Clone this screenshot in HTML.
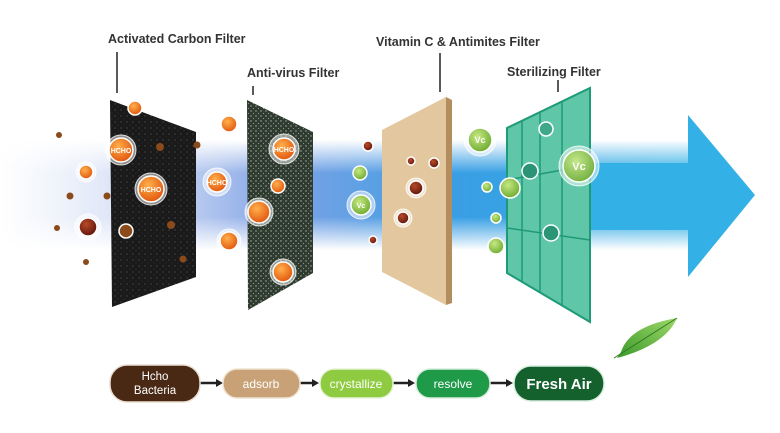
<!DOCTYPE html>
<html><head><meta charset="utf-8"><style>
html,body{margin:0;padding:0;background:#fff;}
svg{display:block}
text{font-family:"Liberation Sans",Arial,sans-serif;font-weight:bold}
</style></head><body>
<svg width="780" height="433" viewBox="0 0 780 433" xmlns="http://www.w3.org/2000/svg">
<defs>
<linearGradient id="beam" x1="0" x2="1" y1="0" y2="0">
<stop offset="0" stop-color="#c8d6f2" stop-opacity="0"/>
<stop offset="0.2" stop-color="#b7c6ee" stop-opacity="0.6"/>
<stop offset="0.4" stop-color="#6f98e2" stop-opacity="0.9"/>
<stop offset="0.65" stop-color="#3a9ee4"/>
<stop offset="1" stop-color="#2fb0e6"/>
</linearGradient>
<linearGradient id="vbeam" x1="0" x2="0" y1="0" y2="1">
<stop offset="0" stop-color="#fff" stop-opacity="1"/>
<stop offset="0.3" stop-color="#fff" stop-opacity="0"/>
<stop offset="0.7" stop-color="#fff" stop-opacity="0"/>
<stop offset="1" stop-color="#fff" stop-opacity="1"/>
</linearGradient>
<radialGradient id="orb" cx="0.4" cy="0.35" r="0.7">
<stop offset="0" stop-color="#ffb04a"/><stop offset="1" stop-color="#e0520c"/>
</radialGradient>
<radialGradient id="red" cx="0.4" cy="0.35" r="0.7">
<stop offset="0" stop-color="#b84a2a"/><stop offset="1" stop-color="#5a1208"/>
</radialGradient>
<radialGradient id="vc" cx="0.4" cy="0.35" r="0.7">
<stop offset="0" stop-color="#c6e882"/><stop offset="1" stop-color="#6aa82e"/>
</radialGradient>
<linearGradient id="leaf" x1="0" y1="1" x2="1" y2="0">
<stop offset="0" stop-color="#3a9a2a"/><stop offset="1" stop-color="#9fd86a"/>
</linearGradient>
<pattern id="speck" width="6" height="6" patternUnits="userSpaceOnUse">
<rect width="6" height="6" fill="#1a1a1a"/><circle cx="1" cy="2" r="0.5" fill="#777"/><circle cx="4" cy="5" r="0.4" fill="#555"/>
</pattern>
<pattern id="speck2" width="5" height="5" patternUnits="userSpaceOnUse">
<rect width="5" height="5" fill="#2f3a30"/><circle cx="1" cy="1" r="0.7" fill="#a9b6a2"/><circle cx="3.5" cy="3.5" r="0.6" fill="#8a9a84"/>
</pattern>
</defs>

<rect x="0" y="140" width="700" height="110" fill="url(#beam)"/>
<rect x="0" y="140" width="700" height="110" fill="url(#vbeam)"/>
<rect x="590" y="163" width="100" height="67" fill="#33b0e5"/>
<polygon points="688,115 755,195 688,277" fill="#33b0e5"/>

<polygon points="110,100 196,132 196,277 112,307" fill="url(#speck)"/>
<polygon points="247,100 313,132 313,273 248,310" fill="url(#speck2)"/>
<polygon points="382,130 446,97 446,305 382,272" fill="#e3c79e"/>
<polygon points="446,97 452,100 452,303 446,305" fill="#b48d5e"/>
<polygon points="507,128 590,88 590,322 507,273" fill="#5fc6a8" stroke="#1f9a78" stroke-width="2"/>
<g stroke="#1f9a78" stroke-width="1.5" fill="none">
<line x1="522" y1="121" x2="522" y2="282"/><line x1="540" y1="112" x2="540" y2="293"/><line x1="562" y1="102" x2="562" y2="305"/>
<line x1="507" y1="180" x2="590" y2="165"/><line x1="507" y1="228" x2="590" y2="240"/>
</g>

<g fill="#333" font-size="12.5">
<text x="108" y="43">Activated Carbon Filter</text>
<text x="247" y="77">Anti-virus Filter</text>
<text x="376" y="46">Vitamin C &amp; Antimites Filter</text>
<text x="507" y="76">Sterilizing Filter</text>
</g>
<g stroke="#222" stroke-width="1.5">
<line x1="117" y1="52" x2="117" y2="93"/><line x1="253" y1="86" x2="253" y2="95"/>
<line x1="440" y1="53" x2="440" y2="92"/><line x1="558" y1="80" x2="558" y2="92"/>
</g>

<g fill="#fff" fill-opacity="0.5" stroke="#fff" stroke-opacity="0.8">
<circle cx="121" cy="150" r="15"/><circle cx="151" cy="189" r="16"/><circle cx="86" cy="172" r="10"/>
<circle cx="88" cy="227" r="13"/><circle cx="217" cy="182" r="14"/><circle cx="229" cy="241" r="12"/>
<circle cx="284" cy="149" r="15"/><circle cx="259" cy="212" r="14"/><circle cx="283" cy="272" r="13"/>
<circle cx="361" cy="205" r="14"/><circle cx="480" cy="140" r="16"/><circle cx="579" cy="166" r="20"/>
<circle cx="416" cy="188" r="10"/><circle cx="403" cy="218" r="9"/>
</g>
<g stroke="#fff" stroke-width="1.5">
<circle cx="135" cy="108" r="7" fill="url(#orb)"/>
<circle cx="121" cy="150" r="12" fill="url(#orb)"/>
<circle cx="151" cy="189" r="13" fill="url(#orb)"/>
<circle cx="86" cy="172" r="7" fill="url(#orb)"/>
<circle cx="88" cy="227" r="9" fill="url(#red)"/>
<circle cx="126" cy="231" r="7" fill="#8a4a1a"/>
<circle cx="229" cy="124" r="8" fill="url(#orb)"/>
<circle cx="217" cy="182" r="10" fill="url(#orb)"/>
<circle cx="229" cy="241" r="9" fill="url(#orb)"/>
<circle cx="284" cy="149" r="11" fill="url(#orb)"/>
<circle cx="278" cy="186" r="7" fill="url(#orb)"/>
<circle cx="259" cy="212" r="11" fill="url(#orb)"/>
<circle cx="283" cy="272" r="10" fill="url(#orb)"/>
<circle cx="411" cy="161" r="4" fill="url(#red)"/>
<circle cx="434" cy="163" r="5" fill="url(#red)"/>
<circle cx="416" cy="188" r="7" fill="url(#red)"/>
<circle cx="403" cy="218" r="6" fill="url(#red)"/>
<circle cx="368" cy="146" r="5" fill="url(#red)"/>
<circle cx="373" cy="240" r="4" fill="url(#red)"/>
<circle cx="360" cy="173" r="7" fill="url(#vc)"/>
<circle cx="361" cy="205" r="10" fill="url(#vc)"/>
<circle cx="480" cy="140" r="12" fill="url(#vc)"/>
<circle cx="510" cy="188" r="10" fill="url(#vc)"/>
<circle cx="487" cy="187" r="5" fill="url(#vc)"/>
<circle cx="496" cy="218" r="5" fill="url(#vc)"/>
<circle cx="496" cy="246" r="8" fill="url(#vc)"/>
<circle cx="579" cy="166" r="16" fill="url(#vc)" fill-opacity="0.9"/>
<circle cx="546" cy="129" r="7" fill="#3ea888"/>
<circle cx="530" cy="171" r="8" fill="#2a9474"/>
<circle cx="551" cy="233" r="8" fill="#2a9474"/>
</g>
<g fill="#8a4a1a">
<circle cx="59" cy="135" r="3"/><circle cx="70" cy="196" r="3.5"/><circle cx="107" cy="196" r="3.5"/>
<circle cx="57" cy="228" r="3"/><circle cx="86" cy="262" r="3"/><circle cx="160" cy="147" r="4"/>
<circle cx="171" cy="225" r="4"/><circle cx="183" cy="259" r="3.5"/><circle cx="197" cy="145" r="3.5"/>
</g>
<g fill="#fff" font-size="7" text-anchor="middle">
<text x="151" y="192">HCHO</text><text x="121" y="153">HCHO</text><text x="217" y="185">HCHO</text><text x="284" y="152">HCHO</text>
<text x="480" y="143" font-size="9">Vc</text><text x="579" y="170" font-size="11">Vc</text><text x="361" y="208" font-size="7">Vc</text>
</g>

<path d="M617,358 C640,352 668,340 677,318 C655,322 628,330 621,352 Z" fill="url(#leaf)"/>
<path d="M614,358 L677,318" stroke="#2d7a20" stroke-width="1"/>

<g stroke="#222" stroke-width="2.5">
<line x1="200" y1="383" x2="218" y2="383"/><line x1="300" y1="383" x2="314" y2="383"/>
<line x1="393" y1="383" x2="410" y2="383"/><line x1="490" y1="383" x2="508" y2="383"/>
</g>
<g fill="#222">
<polygon points="223,383 216,379 216,387"/><polygon points="319,383 312,379 312,387"/>
<polygon points="415,383 408,379 408,387"/><polygon points="513,383 506,379 506,387"/>
</g>
<rect x="110" y="365" width="90" height="37" rx="17" fill="#4a2914" stroke="#e9ddd2" stroke-width="1.5"/>
<rect x="223" y="369" width="77" height="29" rx="14" fill="#c9a176" stroke="#f0e3d2" stroke-width="1.5"/>
<rect x="320" y="369" width="73" height="29" rx="14" fill="#8fcb40" stroke="#e6f3d5" stroke-width="1.5"/>
<rect x="416" y="369" width="74" height="29" rx="14" fill="#1f9a48" stroke="#d7eedd" stroke-width="1.5"/>
<rect x="514" y="366" width="90" height="35" rx="17" fill="#14612e" stroke="#d7eedd" stroke-width="1.5"/>
<g fill="#fff" text-anchor="middle">
<text x="155" y="380" font-size="11.5" style="font-weight:normal">Hcho</text>
<text x="155" y="394" font-size="11.5" style="font-weight:normal">Bacteria</text>
<text x="261" y="388" font-size="12" style="font-weight:normal">adsorb</text>
<text x="356" y="388" font-size="12" style="font-weight:normal">crystallize</text>
<text x="453" y="388" font-size="12" style="font-weight:normal">resolve</text>
<text x="559" y="389" font-size="15">Fresh Air</text>
</g>
</svg>
</body></html>
